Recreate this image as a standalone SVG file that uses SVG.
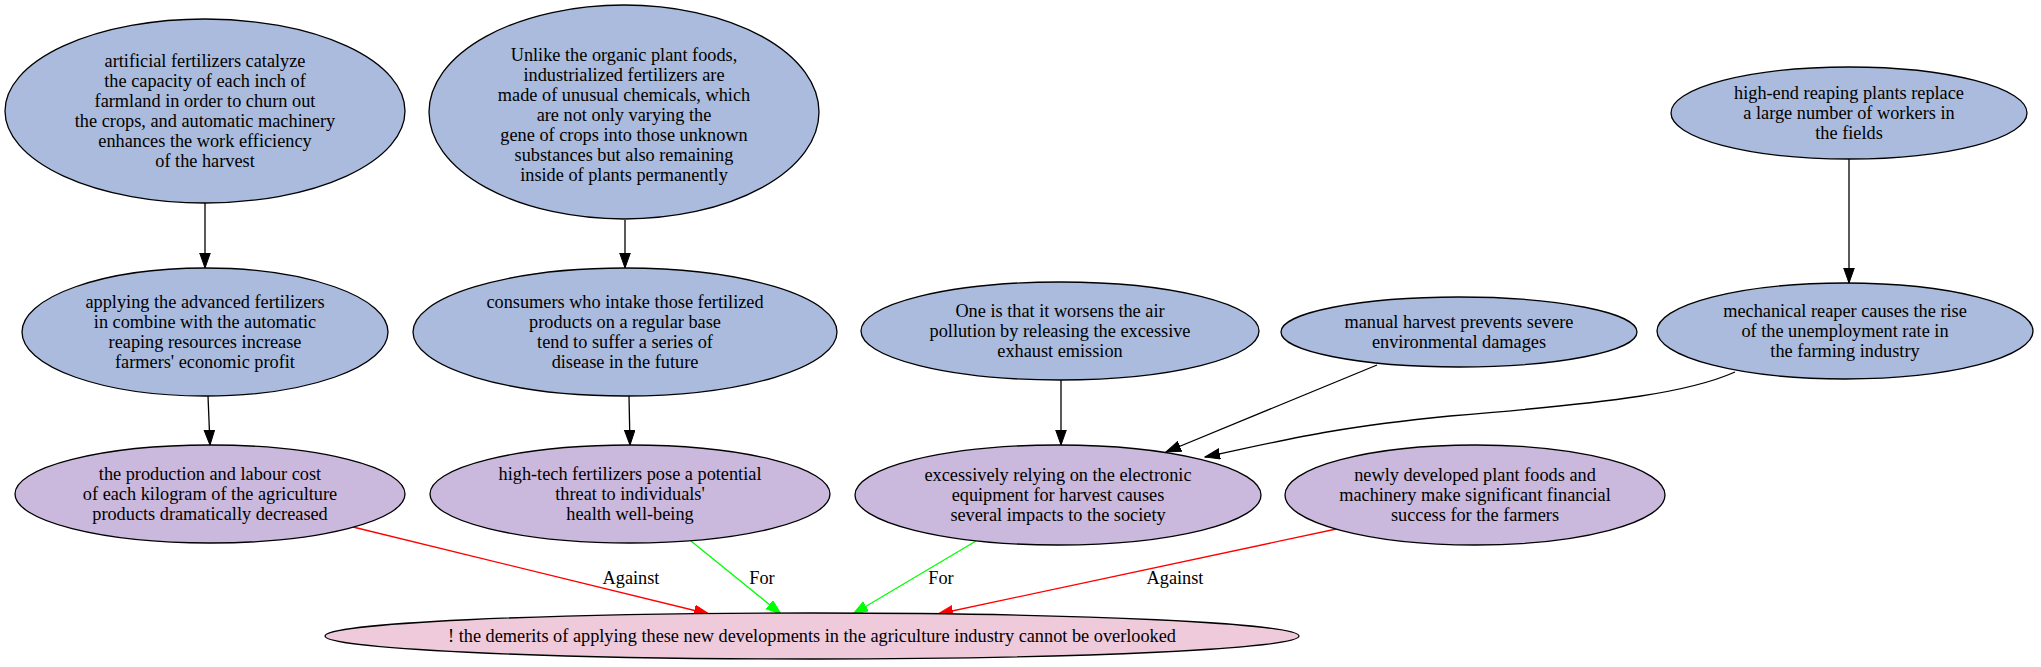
<svg xmlns="http://www.w3.org/2000/svg" width="2041" height="667" viewBox="0 0 2041 667">
<style>
text{font-family:"Liberation Serif","Times New Roman",serif;font-size:18.3px;fill:#000;text-anchor:middle}
.n ellipse{stroke:#000;stroke-width:1.3}
.b ellipse{fill:#aabbdd}
.p ellipse{fill:#cab9dc}
.k ellipse{fill:#eecadb}
.e{fill:none;stroke-width:1.3}
.blk{stroke:#000}
.red{stroke:#ff0000}
.grn{stroke:#00ff00}
</style>
<defs>
<marker id="ab" markerUnits="userSpaceOnUse" markerWidth="16" markerHeight="13" refX="15" refY="5.5" orient="auto"><path d="M0,0.2 L15,5.5 L0,10.8 Z" fill="#000" stroke="#000"/></marker>
<marker id="ar" markerUnits="userSpaceOnUse" markerWidth="16" markerHeight="13" refX="15" refY="5.5" orient="auto"><path d="M0,0.2 L15,5.5 L0,10.8 Z" fill="#ff0000" stroke="#ff0000"/></marker>
<marker id="ag" markerUnits="userSpaceOnUse" markerWidth="16" markerHeight="13" refX="15" refY="5.5" orient="auto"><path d="M0,0.2 L15,5.5 L0,10.8 Z" fill="#00ff00" stroke="#00ff00"/></marker>
</defs>
<rect width="2041" height="667" fill="#fff"/>
<g id="edges">
<path class="e blk" d="M205,203 L205,268" marker-end="url(#ab)"/>
<path class="e blk" d="M625,220 L625,268" marker-end="url(#ab)"/>
<path class="e blk" d="M1849,159 L1849,283" marker-end="url(#ab)"/>
<path class="e blk" d="M208,396 L210,445" marker-end="url(#ab)"/>
<path class="e blk" d="M629,396 L630,445" marker-end="url(#ab)"/>
<path class="e blk" d="M1061,380 L1061,445" marker-end="url(#ab)"/>
<path class="e blk" d="M1377,365 L1166,452" marker-end="url(#ab)"/>
<path class="e blk" d="M1735,372 C1690,392 1620,402 1450,416 C1330,428 1290,439 1205,457" marker-end="url(#ab)"/>
<path class="e red" d="M353,527 L709,614" marker-end="url(#ar)"/>
<path class="e grn" d="M691,541 L781,614" marker-end="url(#ag)"/>
<path class="e grn" d="M976,541 L853,614" marker-end="url(#ag)"/>
<path class="e red" d="M1341,528 L938,614" marker-end="url(#ar)"/>
<text x="631" y="584">Against</text>
<text x="762" y="584">For</text>
<text x="941" y="584">For</text>
<text x="1175" y="584">Against</text>
</g>
<g id="nA" class="n b"><ellipse cx="205" cy="111" rx="200" ry="92"/>
<text x="205" y="67">artificial fertilizers catalyze</text>
<text x="205" y="87">the capacity of each inch of</text>
<text x="205" y="107">farmland in order to churn out</text>
<text x="205" y="127">the crops, and automatic machinery</text>
<text x="205" y="147">enhances the work efficiency</text>
<text x="205" y="167">of the harvest</text></g>
<g id="nB" class="n b"><ellipse cx="624" cy="112" rx="195" ry="107"/>
<text x="624" y="61">Unlike the organic plant foods,</text>
<text x="624" y="81">industrialized fertilizers are</text>
<text x="624" y="101">made of unusual chemicals, which</text>
<text x="624" y="121">are not only varying the</text>
<text x="624" y="141">gene of crops into those unknown</text>
<text x="624" y="161">substances but also remaining</text>
<text x="624" y="181">inside of plants permanently</text></g>
<g id="nC" class="n b"><ellipse cx="1849" cy="113" rx="178" ry="46"/>
<text x="1849" y="99">high-end reaping plants replace</text>
<text x="1849" y="119">a large number of workers in</text>
<text x="1849" y="139">the fields</text></g>
<g id="nD" class="n b"><ellipse cx="205" cy="332" rx="183" ry="64"/>
<text x="205" y="308">applying the advanced fertilizers</text>
<text x="205" y="328">in combine with the automatic</text>
<text x="205" y="348">reaping resources increase</text>
<text x="205" y="368">farmers' economic profit</text></g>
<g id="nE" class="n b"><ellipse cx="625" cy="332" rx="212" ry="64"/>
<text x="625" y="308">consumers who intake those fertilized</text>
<text x="625" y="328">products on a regular base</text>
<text x="625" y="348">tend to suffer a series of</text>
<text x="625" y="368">disease in the future</text></g>
<g id="nF" class="n b"><ellipse cx="1060" cy="331" rx="199" ry="49"/>
<text x="1060" y="317">One is that it worsens the air</text>
<text x="1060" y="337">pollution by releasing the excessive</text>
<text x="1060" y="357">exhaust emission</text></g>
<g id="nG" class="n b"><ellipse cx="1459" cy="332" rx="178" ry="35"/>
<text x="1459" y="328">manual harvest prevents severe</text>
<text x="1459" y="348">environmental damages</text></g>
<g id="nH" class="n b"><ellipse cx="1845" cy="331" rx="188" ry="48"/>
<text x="1845" y="317">mechanical reaper causes the rise</text>
<text x="1845" y="337">of the unemployment rate in</text>
<text x="1845" y="357">the farming industry</text></g>
<g id="nI" class="n p"><ellipse cx="210" cy="494" rx="195" ry="49"/>
<text x="210" y="480">the production and labour cost</text>
<text x="210" y="500">of each kilogram of the agriculture</text>
<text x="210" y="520">products dramatically decreased</text></g>
<g id="nJ" class="n p"><ellipse cx="630" cy="494" rx="200" ry="49"/>
<text x="630" y="480">high-tech fertilizers pose a potential</text>
<text x="630" y="500">threat to individuals'</text>
<text x="630" y="520">health well-being</text></g>
<g id="nK" class="n p"><ellipse cx="1058" cy="495" rx="203" ry="50"/>
<text x="1058" y="481">excessively relying on the electronic</text>
<text x="1058" y="501">equipment for harvest causes</text>
<text x="1058" y="521">several impacts to the society</text></g>
<g id="nL" class="n p"><ellipse cx="1475" cy="495" rx="190" ry="50"/>
<text x="1475" y="481">newly developed plant foods and</text>
<text x="1475" y="501">machinery make significant financial</text>
<text x="1475" y="521">success for the farmers</text></g>
<g id="nM" class="n k"><ellipse cx="812" cy="636" rx="487" ry="23"/>
<text x="812" y="642">! the demerits of applying these new developments in the agriculture industry cannot be overlooked</text></g>
</svg>
